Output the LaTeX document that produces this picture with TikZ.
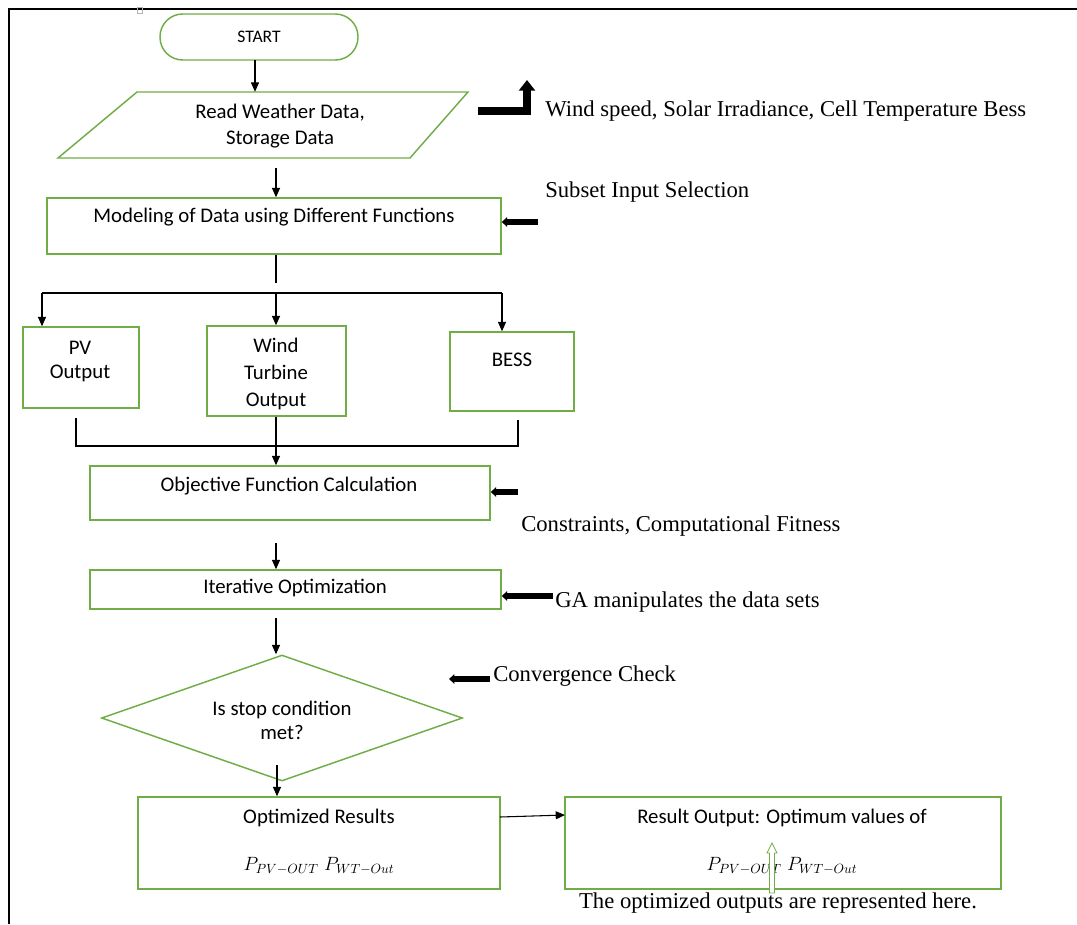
\documentclass[tikz,border=0pt]{standalone}
\usepackage{fontspec}
\setmainfont{Liberation Serif}
\newfontfamily\calib{Carlito}
\usetikzlibrary{arrows.meta,shapes.geometric,fit}
\definecolor{ogreen}{RGB}{112,173,71}
\tikzset{
  gbox/.style={draw=ogreen,line width=1.1pt,inner sep=0pt},
  ctext/.style={font=\calib\fontsize{15.6}{20}\selectfont,align=center,inner sep=0pt},
  stext/.style={font=\fontsize{17}{20}\selectfont,anchor=west,inner sep=0pt},
  mtext/.style={font=\fontsize{14.5}{16}\selectfont,inner sep=0pt},
  flow/.style={line width=0.8pt,-{Triangle[length=7pt,width=6pt]}},
  plainline/.style={line width=0.8pt},
  fat/.style={line width=4.2pt,-{Triangle[length=4pt,width=7pt]}},
  bigfat/.style={line width=6pt,line join=miter,-{Triangle[length=8pt,width=12pt]}},
}
\begin{document}
\begin{tikzpicture}[x=0.75pt,y=-0.75pt]
\useasboundingbox (0,0) rectangle (1077,924);
% frame
\coordinate (fA) at (9,9);
\coordinate (fB) at (1077,9);
\coordinate (fC) at (9,924);
\draw[line width=1.1pt] (fB) -- (fA) -- (fC);
\draw[gray!60,line width=0.5pt] (137,7) rectangle (142,13);

% START
\draw[gbox,rounded corners=17pt] (160,14) rectangle (358,60);
\node[inner sep=0pt,minimum width=148.5pt,minimum height=34.5pt] (start) at (259,37) {};
\node[ctext,font=\calib\fontsize{13.2}{15}\selectfont] (starttxt) at (259,37) {START};

% Read data parallelogram
\node[inner sep=0pt,fit={(58,92) (468,158)}] (read) {};
\draw[gbox] (137,92) -- (468,92) -- (410,158) -- (58,158) -- cycle;
\node[ctext,font=\calib\fontsize{15.6}{19.5}\selectfont] (readtxt) at (280,126) {Read Weather Data,\\Storage Data};

% Modeling box
\node[gbox,fit={(47,198) (501,254)}] (mod) {};
\node[ctext] (modtxt) at (274,217) {Modeling of Data using Different Functions};

% branch boxes
\node[gbox,fit={(23,327) (139,408)}] (pv) {};
\node[ctext,font=\calib\fontsize{15.6}{18}\selectfont] (pvtxt) at (80,361) {PV\\Output};
\node[gbox,fit={(207,326) (346,416)}] (wt) {};
\node[ctext,font=\calib\fontsize{15.6}{20}\selectfont] (wttxt) at (276,374) {Wind\\Turbine\\Output};
\node[gbox,fit={(450,332) (574,411)}] (bess) {};
\node[ctext] (besstxt) at (512,360) {BESS};

% Objective
\node[gbox,fit={(90,466) (490,520)}] (obj) {};
\node[ctext] (objtxt) at (289,486) {Objective Function Calculation};

% Iterative
\node[gbox,fit={(90,570) (501,609)}] (iter) {};
\node[ctext] (itertxt) at (295,588) {Iterative Optimization};

% Decision
\node[gbox,diamond,minimum width=270.75pt,minimum height=94.5pt] (dec) at (282,718) {};
\node[ctext,font=\calib\fontsize{15.6}{18}\selectfont] (dectxt) at (282,720) {Is stop condition\\met?};

% Optimized results
\node[gbox,fit={(138,797) (500,889)}] (opt) {};
\node[ctext] (opttxt) at (319,818) {Optimized Results};
\node[mtext] (optmath) at (319,866) {$P_{PV-OUT}\;P_{WT-Out}$};

% Result output
\node[gbox,fit={(565,797) (1001,889)}] (res) {};
\node[ctext] (restxt) at (782,818) {Result Output: Optimum values of};
\node[mtext] (resmath) at (782,866) {$P_{PV-OUT}\;P_{WT-Out}$};

% side texts
\node[stext] (t1) at (545,111) {Wind speed, Solar Irradiance, Cell Temperature Bess};
\node[stext] (t2) at (545,192) {Subset Input Selection};
\node[stext] (t3) at (521,526) {Constraints, Computational Fitness};
\node[stext] (t4) at (555,602) {GA manipulates the data sets};
\node[stext] (t5) at (493,676) {Convergence Check};
\node[stext,anchor=center] (t6) at (778,903) {The optimized outputs are represented here.};

% main flow arrows
\coordinate (a0) at (255,60);
\draw[flow] (a0) -- (a0 |- read.north);
\coordinate (a1) at (276,168);
\draw[flow] (a1) -- (a1 |- mod.north);
\coordinate (b0) at (276,283);
\draw[plainline] (b0 |- mod.south) -- (b0);
\coordinate (hl) at (42,293);
\coordinate (hm) at (276,293);
\coordinate (hr) at (502,293);
\draw[plainline] (hl) -- (hr);
\draw[flow] (hl) -- (hl |- pv.north);
\draw[flow] (hm) -- (hm |- wt.north);
\draw[flow] (hr) -- (hr |- bess.north);
\coordinate (ll) at (76,418);
\coordinate (lr) at (518,420);
\coordinate (lb) at (76,446);
\coordinate (lbr) at (518,446);
\draw[plainline] (ll) -- (lb) -- (lbr) -- (lr);
\draw[flow] (wt.south -| hm) -- (hm |- obj.north);
\coordinate (a2) at (276,543);
\draw[flow] (a2) -- (a2 |- iter.north);
\coordinate (a3) at (276,618);
\draw[flow] (a3) -- (dec.north -| a3);
\coordinate (a4) at (277,765);
\draw[flow] (a4) -- (a4 |- opt.north);
\coordinate (a5) at (500,817);
\draw[flow] (a5) -- (565,815);

% fat side arrows
\coordinate (s1) at (478,111);
\coordinate (s1t) at (527,80);
\draw[bigfat] (s1) -| (s1t);
\coordinate (s2) at (538,222);
\draw[fat] (s2) -- (s2 -| mod.east);
\coordinate (s3) at (518,492);
\draw[fat] (s3) -- (s3 -| obj.east);
\coordinate (s4) at (553,596);
\draw[fat] (s4) -- (s4 -| iter.east);
\coordinate (s5) at (490,679);
\coordinate (s5e) at (449,679);
\draw[fat] (s5) -- (s5e);

% hollow green arrow
\draw[draw=ogreen,fill=white,line width=0.6pt]
  (769.5,893) -- (769.5,853) -- (767,853) -- (772,843) -- (777,853) -- (774.5,853) -- (774.5,893) -- cycle;
\end{tikzpicture}
\end{document}
